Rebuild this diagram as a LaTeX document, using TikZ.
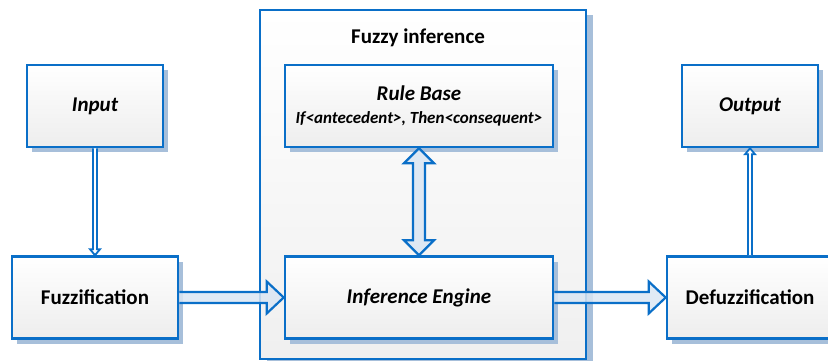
\documentclass[tikz,border=0pt]{standalone}
\usepackage{fontspec}
\setmainfont{Carlito}
\usepackage{tikz}
\usetikzlibrary{calc,shadows}

\definecolor{boxblue}{HTML}{0A6FC8}
\definecolor{arrowfill}{HTML}{DAE6F3}
\definecolor{shadowblue}{HTML}{A7BFDA}

\tikzset{
  box/.style={draw=boxblue, line width=2.6pt, top color=white, bottom color=black!7,
    minimum height=82pt, font=\fontsize{21}{25}\selectfont\bfseries,
    drop shadow={shadow xshift=5pt, shadow yshift=-5pt, fill=shadowblue, opacity=1}},
  bigbox/.style={draw=boxblue, line width=2.6pt, top color=white, bottom color=black!6,
    minimum width=326pt, minimum height=349pt,
    drop shadow={shadow xshift=7pt, shadow yshift=-5pt, fill=shadowblue, opacity=1}},
  blockarrow/.style={draw=boxblue, line width=2.2pt, fill=arrowfill, fill opacity=0.85, line join=miter},
  thinarrow/.style={draw=boxblue, line width=1.8pt, fill=white, line join=miter}
}

\begin{document}
\begin{tikzpicture}[x=1pt,y=-1pt]
\useasboundingbox (0,0) rectangle (828,361);
% fuzzy inference block
\node[bigbox] (fis) at (423,184.5) {};
\node[font=\fontsize{21}{25}\selectfont\bfseries] (fistitle) at (418,38) {Fuzzy inference};
% boxes
\node[box, minimum width=136pt] (inp) at (95,106) {\itshape Input};
\node[box, minimum width=166pt] (fuzz) at (95,297.5) {Fuzzification};
\node[box, minimum width=268pt, align=center] (rule) at (419,106)
  {\itshape Rule Base\\[-2pt]{\fontsize{17}{19}\selectfont\itshape If<antecedent>, Then<consequent>}};
\node[box, minimum width=268pt] (eng) at (419,297.5) {\itshape Inference Engine};
\node[box, minimum width=136pt] (out) at (750,106) {\itshape Output};
\node[box, minimum width=166pt] (defuz) at (750,297.5) {Defuzzification};
% block arrows
\draw[blockarrow] ($(fuzz.east)+(0,-5.5)$) -- ($(eng.west)+(-17,-5.5)$) -- ($(eng.west)+(-17,-16)$)
  -- (eng.west) -- ($(eng.west)+(-17,16)$) -- ($(eng.west)+(-17,5.5)$) -- ($(fuzz.east)+(0,5.5)$);
\draw[blockarrow] ($(eng.east)+(0,-5.5)$) -- ($(defuz.west)+(-17,-5.5)$) -- ($(defuz.west)+(-17,-16)$)
  -- (defuz.west) -- ($(defuz.west)+(-17,16)$) -- ($(defuz.west)+(-17,5.5)$) -- ($(eng.east)+(0,5.5)$);
\draw[blockarrow] (rule.south) -- ($(rule.south)+(15,15)$) -- ($(rule.south)+(6,15)$)
  -- ($(eng.north)+(6,-15)$) -- ($(eng.north)+(15,-15)$) -- (eng.north)
  -- ($(eng.north)+(-15,-15)$) -- ($(eng.north)+(-6,-15)$) -- ($(rule.south)+(-6,15)$)
  -- ($(rule.south)+(-15,15)$) -- cycle;
% thin arrows
\draw[thinarrow] ($(inp.south)+(-2,0)$) -- ($(fuzz.north)+(-2,-6)$) -- ($(fuzz.north)+(-5,-6)$)
  -- (fuzz.north) -- ($(fuzz.north)+(5,-6)$) -- ($(fuzz.north)+(2,-6)$) -- ($(inp.south)+(2,0)$);
\draw[thinarrow] ($(defuz.north)+(-2,0)$) -- ($(out.south)+(-2,6)$) -- ($(out.south)+(-5,6)$)
  -- (out.south) -- ($(out.south)+(5,6)$) -- ($(out.south)+(2,6)$) -- ($(defuz.north)+(2,0)$);
\end{tikzpicture}
\end{document}
